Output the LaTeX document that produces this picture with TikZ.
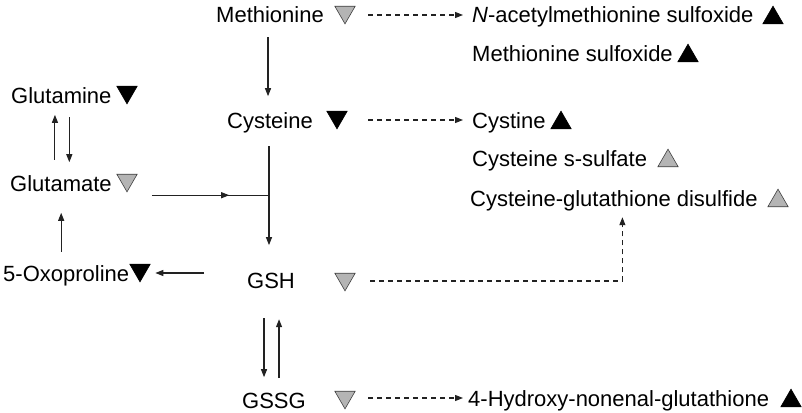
\documentclass[tikz,border=0pt]{standalone}
\usepackage{fontspec}
\setmainfont{Liberation Sans}
\usetikzlibrary{arrows.meta,shapes.geometric,decorations.markings}
\definecolor{tgrey}{HTML}{B4B4B4}
\definecolor{lncol}{HTML}{222222}
\tikzset{
  txt/.style={anchor=west, inner sep=0pt, text height=16pt, text depth=0pt, font=\fontsize{22}{26}\selectfont},
  tri/.style={regular polygon, regular polygon sides=3, minimum size=23.5pt, inner sep=0pt, draw=black!75, line width=0.6pt},
  tup/.style={tri, yshift=-2.9pt},
  tdown/.style={tri, shape border rotate=180, yshift=2.9pt},
  blk/.style={fill=black, draw=black},
  gry/.style={fill=tgrey},
  ar/.style={draw=lncol, line width=1.1pt, -{Triangle[length=8pt,width=6pt]}},
  dar/.style={ar, dash pattern=on 5pt off 4pt},
  midarrow/.style={draw=lncol, line width=1.1pt, decoration={markings, mark=at position 0.66 with {\arrow{Triangle[length=8pt,width=6pt]}}}, postaction={decorate}}
}
\begin{document}
\begin{tikzpicture}[x=1pt,y=-1pt]
\useasboundingbox (0,0) rectangle (802,412);
% text nodes
\node[txt] (met) at (216,15) {Methionine};
\node[tdown,gry] (tmet) at (345,15) {};
\node[txt] (nacet) at (472,15) {\textit{N}-acetylmethionine sulfoxide};
\node[tup,blk] (tnacet) at (773,15) {};
\node[txt] (mso) at (472,53) {Methionine sulfoxide};
\node[tup,blk] (tmso) at (688,53) {};
\node[txt] (cys) at (227,120) {Cysteine};
\node[tdown,blk] (tcys) at (337,120) {};
\node[txt] (cyss) at (472,120) {Cystine};
\node[tup,blk] (tcyss) at (561,120) {};
\node[txt] (css) at (472,158) {Cysteine s-sulfate};
\node[tup,gry] (tcss) at (668,158) {};
\node[txt] (cgd) at (470,198) {Cysteine-glutathione disulfide};
\node[tup,gry] (tcgd) at (778,198) {};
\node[txt] (gln) at (11,95) {Glutamine};
\node[tdown,blk] (tgln) at (127,95) {};
\node[txt] (glu) at (10,183) {Glutamate};
\node[tdown,gry] (tglu) at (127,183) {};
\node[txt] (oxo) at (3,273) {5-Oxoproline};
\node[tdown,blk] (toxo) at (140,273) {};
\node[txt] (gsh) at (247,280) {GSH};
\node[tdown,gry] (tgsh) at (345,282) {};
\node[txt] (gssg) at (242,400) {GSSG};
\node[tdown,gry] (tgssg) at (345,400) {};
\node[txt] (hne) at (468,398) {4-Hydroxy-nonenal-glutathione};
\node[tup,blk] (thne) at (791,398) {};
\coordinate (cstart) at ([xshift=-1pt,yshift=-18pt]cys.south);
\coordinate (j) at ([yshift=-49pt]cstart);
\path (j) ++(-117,0) coordinate (gstart);
% solid arrows
\draw[ar] ([xshift=-2pt,yshift=-14pt]met.south) -- ++(0,59);
\draw[ar] (cstart) -- ++(0,99);
\draw[midarrow] (gstart) -- (j);
\draw[ar] ([xshift=-6pt,yshift=15pt]glu.north) -- ++(0,-45);
\draw[ar] ([xshift=8pt,yshift=-14pt]gln.south) -- ++(0,45);
\draw[ar] ([xshift=-5pt,yshift=13pt]oxo.north) -- ++(0,-39);
\draw[ar] ([xshift=-43pt,yshift=7pt]gsh.west) -- ([xshift=26pt]oxo.east);
\draw[ar] ([xshift=-7pt,yshift=-30pt]gsh.south) -- ++(0,59);
\draw[ar] ([xshift=8pt,yshift=-90pt]gsh.south) -- ++(0,-59);
% dashed arrows
\draw[dar] ([xshift=44pt]met.east) -- ([xshift=-9pt]nacet.west);
\draw[dar] ([xshift=55.4pt]cys.east) -- ([xshift=-9pt]cyss.west);
\draw[dar] ([xshift=75pt,yshift=-1pt]gsh.east) -| ([xshift=8.5pt,yshift=-11pt]cgd.south);
\draw[dar] ([xshift=62.4pt,yshift=2pt]gssg.east) -- ([xshift=-5pt]hne.west);
\end{tikzpicture}
\end{document}
